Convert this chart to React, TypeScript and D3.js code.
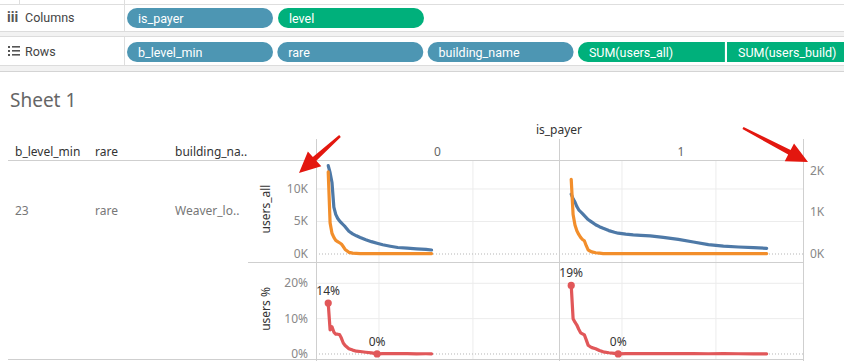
import * as d3 from 'd3'

// is_payer = 0
const levels0 = [23, 24, 25, 26, 27, 28, 29, 30, 31, 32, 34, 36, 38, 40, 43, 46, 49, 52, 56, 60, 65, 70, 75, 78]
const usersAll0 = [13.6, 12.5, 11.0, 7.2, 6.1, 5.5, 5.1, 4.8, 4.5, 4.2, 3.5, 3.1, 2.8, 2.55, 2.2, 1.9, 1.65, 1.42, 1.2, 1.0, 0.9, 0.8, 0.72, 0.62]
const usersBuild0 = [1.98, 0.75, 0.5, 0.4, 0.33, 0.3, 0.27, 0.24, 0.18, 0.11, 0.04, 0.02, 0.015, 0.01, 0.01, 0.01, 0.01, 0.01, 0.01, 0.01, 0.01, 0.01, 0.01, 0.01]
const usersPct0 = [14.4, 6.8, 7.7, 6.2, 5.6, 5.6, 5.5, 4.5, 3.1, 2.4, 1.5, 1.1, 0.8, 0.7, 0.5, 0.3, 0.02, 0.1, 0.08, 0.1, 0.08, 0.06, 0.07, 0.06]

// is_payer = 1
const levels1 = [23, 24, 25, 26, 27, 28, 29, 30, 31, 32, 33, 34, 36, 38, 40, 43, 46, 48, 52, 56, 60, 65, 72, 80, 88, 96, 104, 112, 120, 127]
const usersAll1 = [9.2, 8.5, 8.0, 7.3, 6.8, 6.5, 6.2, 5.9, 5.6, 5.3, 5.1, 4.9, 4.5, 4.2, 3.95, 3.6, 3.35, 3.2, 3.05, 2.95, 2.88, 2.8, 2.55, 2.25, 1.85, 1.45, 1.22, 1.08, 0.97, 0.88]
const usersBuild1 = [1.8, 0.95, 0.7, 0.56, 0.47, 0.4, 0.35, 0.32, 0.2, 0.1, 0.07, 0.05, 0.03, 0.02, 0.01, 0.01, 0.01, 0.01, 0.01, 0.01, 0.01, 0.01, 0.01, 0.01, 0.01, 0.01, 0.01, 0.01, 0.01, 0.01]
const usersPct1 = [19.4, 10.0, 9.0, 8.2, 7.0, 6.0, 5.7, 5.4, 4.0, 2.5, 2.1, 1.8, 1.5, 1.0, 0.6, 0.35, 0.15, 0.02, 0.1, 0.09, 0.1, 0.08, 0.09, 0.1, 0.08, 0.07, 0.08, 0.07, 0.06, 0.06]

const payerValues = ['0', '1']
const allTicks = [0, 5, 10]
const buildTicks = [0, 1, 2]
const pctTicks = [0, 10, 20]
const levelGrid = [50, 100]

const columnPills = ['is_payer', 'level']
const rowPills = ['b_level_min', 'rare', 'building_name', 'SUM(users_all)', 'SUM(users_build)']
const rowHeaders = ['b_level_min', 'rare', 'building_na..']
const rowValues = ['23', 'rare', 'Weaver_lo..']

const BLUE = '#4e79a7'
const ORANGE = '#f28e2b'
const RED = '#e15759'
const TEAL = '#4d96b3'
const GREEN = '#00b07b'
const FONT = '"Noto Sans", "Open Sans", sans-serif'

const panes = [
  { x0: 316, w: 243, levels: levels0, all: usersAll0, build: usersBuild0, pct: usersPct0 },
  { x0: 559, w: 244, levels: levels1, all: usersAll1, build: usersBuild1, pct: usersPct1 },
]

const TOP = 160
const MID = 262
const BOT = 360

const xLevel = d3.scaleLinear().domain([16.5, 145.8]).range([0, 243])
const yAll = d3.scaleLinear().domain([-1.23, 14.46]).range([MID, TOP])
const yBuild = d3.scaleLinear().domain([-0.193, 2.265]).range([MID, TOP])
const yPct = d3.scaleLinear().domain([-1.7, 26.03]).range([BOT, MID])
const pctFmt = d3.format('.0%')

// red callout arrow, tail -> tip
const arrowPath = (x1, y1, x2, y2) => {
  const dx = x2 - x1
  const dy = y2 - y1
  const len = Math.hypot(dx, dy)
  const ux = dx / len
  const uy = dy / len
  const px = -uy
  const py = ux
  const hl = 21
  const hw = 10
  const bx = x2 - ux * hl
  const by = y2 - uy * hl
  return `M${x1 + px * 1.2},${y1 + py * 1.2} L${bx + px * 2.6},${by + py * 2.6} L${bx + px * hw},${by + py * hw} L${x2},${y2} L${bx - px * hw},${by - py * hw} L${bx - px * 2.6},${by - py * 2.6} L${x1 - px * 1.2},${y1 - py * 1.2} Z`
}

const Shelves = () => {
  const pillW = 146
  return (
    <g fontFamily='Roboto, sans-serif'>
      <rect x={0} y={0} width={844} height={72} fill='#ffffff' />
      <line x1={0} x2={844} y1={4.5} y2={4.5} stroke='#dedede' />
      <line x1={19.5} x2={19.5} y1={0} y2={4} stroke='#dedede' />
      <line x1={124.5} x2={124.5} y1={0} y2={31} stroke='#dedede' />
      <rect x={0} y={31.5} width={844} height={5} fill='#f2f2f2' />
      <line x1={0} x2={844} y1={31.5} y2={31.5} stroke='#dcdcdc' />
      <line x1={0} x2={844} y1={36.5} y2={36.5} stroke='#dcdcdc' />
      <line x1={124.5} x2={124.5} y1={37} y2={65} stroke='#dedede' />
      <rect x={0} y={65.5} width={844} height={6} fill='#f2f2f2' />
      <line x1={0} x2={844} y1={65.5} y2={65.5} stroke='#dcdcdc' />
      <line x1={0} x2={844} y1={71.5} y2={71.5} stroke='#d4d4d4' />

      <text x={7} y={22} fontSize={14} fontWeight='bold' fill='#555'>iii</text>
      <text x={25} y={22} fontSize={12.5} fill='#444'>Columns</text>
      {[0, 1, 2].map((i) => (
        <g key={i}>
          <rect x={8} y={46 + i * 4} width={2} height={2} fill='#555' />
          <rect x={12} y={46 + i * 4} width={8} height={1.6} fill='#555' />
        </g>
      ))}
      <text x={25} y={56} fontSize={12.5} fill='#444'>Rows</text>

      {columnPills.map((p, i) => (
        <g key={p}>
          <rect x={127 + i * 151} y={8} width={pillW} height={20} rx={10} fill={i === 0 ? TEAL : GREEN} />
          <text x={138 + i * 151} y={22.5} fontSize={12.5} fill='#ffffff'>{p}</text>
        </g>
      ))}
      {rowPills.map((p, i) => {
        const x = i < 4 ? 127 + i * 150.3 : 727
        const w = i < 3 ? pillW : i === 3 ? 147 : 130
        const measure = i >= 3
        return (
          <g key={p}>
            {measure ? (
              i === 3 ? (
                <path d={`M${x + 10},42 H${x + w} V62 H${x + 10} A10,10 0 0 1 ${x + 10},42 Z`} fill={GREEN} />
              ) : (
                <rect x={x} y={42} width={w} height={20} fill={GREEN} />
              )
            ) : (
              <rect x={x} y={42} width={w} height={20} rx={10} fill={TEAL} />
            )}
            <text x={x + 11} y={56.5} fontSize={12.5} fill='#ffffff'>{p}</text>
          </g>
        )
      })}
    </g>
  )
}

const Pane = ({ pane }) => {
  const x = (v) => pane.x0 + xLevel(v)
  const pts = pane.levels.map((lv, i) => ({ lv, all: pane.all[i], build: pane.build[i], pct: pane.pct[i] }))
  const lineAll = d3.line().x((d) => x(d.lv)).y((d) => yAll(d.all))
  const lineBuild = d3.line().x((d) => x(d.lv)).y((d) => yBuild(d.build))
  const linePct = d3.line().x((d) => x(d.lv)).y((d) => yPct(d.pct))
  const first = pts[0]
  const minPt = pts.reduce((a, b) => (b.pct < a.pct ? b : a), pts[0])
  const marks = [first, minPt]

  return (
    <g>
      {/* gridlines */}
      {levelGrid.map((g) => (
        <line key={g} x1={x(g)} x2={x(g)} y1={TOP} y2={BOT} stroke='#ececec' />
      ))}
      {allTicks.filter((t) => t > 0).map((t) => (
        <line key={t} x1={pane.x0} x2={pane.x0 + pane.w} y1={yAll(t)} y2={yAll(t)} stroke='#ececec' />
      ))}
      {pctTicks.filter((t) => t > 0).map((t) => (
        <line key={t} x1={pane.x0} x2={pane.x0 + pane.w} y1={yPct(t)} y2={yPct(t)} stroke='#ececec' />
      ))}
      <line x1={pane.x0} x2={pane.x0 + pane.w} y1={yAll(0)} y2={yAll(0)} stroke='#b5b5b5' strokeDasharray='1,2' />
      <line x1={pane.x0} x2={pane.x0 + pane.w} y1={yPct(0)} y2={yPct(0)} stroke='#b5b5b5' strokeDasharray='1,2' />

      <path d={lineAll(pts)} fill='none' stroke={BLUE} strokeWidth={3.2} strokeLinejoin='round' strokeLinecap='round' />
      <path d={lineBuild(pts)} fill='none' stroke={ORANGE} strokeWidth={3.2} strokeLinejoin='round' strokeLinecap='round' />
      <path d={linePct(pts)} fill='none' stroke={RED} strokeWidth={3.2} strokeLinejoin='round' strokeLinecap='round' />
      {marks.map((m, i) => (
        <g key={i}>
          <circle cx={x(m.lv)} cy={yPct(m.pct)} r={3.6} fill={RED} />
          <text x={x(m.lv)} y={yPct(m.pct) - 8} textAnchor='middle' fontSize={12} fill='#333'>
            {pctFmt(m.pct / 100)}
          </text>
        </g>
      ))}
    </g>
  )
}

const App = () => {
  return (
    <svg
      width={844}
      height={361}
      style={{ position: 'absolute', left: 0, top: 0, background: '#fff' }}
      fontFamily={FONT}
    >
      <Shelves />

      <text x={10} y={107} fontSize={19} fill='#666'>Sheet 1</text>

      {/* column header */}
      <text x={559} y={134} textAnchor='middle' fontSize={12} fill='#333'>is_payer</text>
      {payerValues.map((p, i) => (
        <text key={p} x={panes[i].x0 + panes[i].w / 2} y={156} textAnchor='middle' fontSize={12} fill='#666'>{p}</text>
      ))}
      {rowHeaders.map((h, i) => (
        <text key={h} x={[15, 95, 175][i]} y={156} fontSize={12} fill='#333'>{h}</text>
      ))}
      {rowValues.map((v, i) => (
        <text key={v} x={[15, 95, 175][i]} y={215} fontSize={12} fill='#777'>{v}</text>
      ))}

      {panes.map((p, i) => (
        <Pane key={i} pane={p} />
      ))}

      {/* structure lines */}
      <line x1={8} x2={803} y1={160.5} y2={160.5} stroke='#cfcfcf' />
      <line x1={248} x2={803} y1={262.5} y2={262.5} stroke='#cfcfcf' />
      <line x1={8} x2={803} y1={359.5} y2={359.5} stroke='#cfcfcf' />
      {[316, 559, 803].map((vx) => (
        <line key={vx} x1={vx + 0.5} x2={vx + 0.5} y1={139} y2={361} stroke='#cfcfcf' />
      ))}

      {/* axes */}
      {allTicks.map((t) => (
        <text key={t} x={308} y={yAll(t) + 4} textAnchor='end' fontSize={12} fill='#888'>{`${t}K`}</text>
      ))}
      {pctTicks.map((t) => (
        <text key={t} x={308} y={yPct(t) + 4} textAnchor='end' fontSize={12} fill='#888'>{`${t}%`}</text>
      ))}
      {buildTicks.map((t) => (
        <text key={t} x={810} y={yBuild(t) + 4} fontSize={12} fill='#888'>{`${t}K`}</text>
      ))}
      <text transform='translate(270,209) rotate(-90)' textAnchor='middle' fontSize={12} fill='#333'>users_all</text>
      <text transform='translate(270,309) rotate(-90)' textAnchor='middle' fontSize={12} fill='#333'>users %</text>

      {/* annotation arrows */}
      <path d={arrowPath(340, 136, 299, 173)} fill='#e3170f' />
      <path d={arrowPath(743, 128, 808, 162)} fill='#e3170f' />
    </svg>
  )
}

export default App
